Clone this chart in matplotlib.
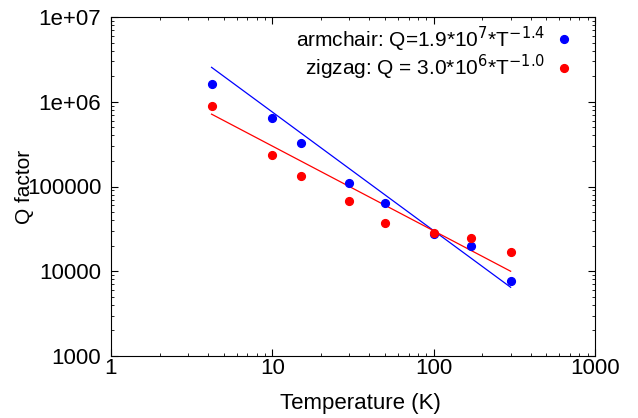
import matplotlib
matplotlib.use("Agg")
import matplotlib.pyplot as plt
import numpy as np

plt.rcParams['font.family'] = ['Liberation Sans', 'DejaVu Sans']

T = [4.2, 10, 15, 30, 50, 100, 170, 300]
armchair_Q = [1.62e6, 6.4e5, 3.26e5, 1.1e5, 6.4e4, 2.75e4, 1.99e4, 7.7e3]
zigzag_Q = [8.9e5, 2.35e5, 1.33e5, 6.7e4, 3.7e4, 2.83e4, 2.47e4, 1.69e4]
arm_fit = (1.9e7, -1.4)
zig_fit = (3.0e6, -1.0)
fit_range = [4.2, 300]

fig = plt.figure(figsize=(6.38, 4.18), dpi=100)
ax = fig.add_axes([111/638, 1-356/418, (595-111)/638, (356-17)/418])

tf = np.array(fit_range)
ax.plot(tf, arm_fit[0]*tf**arm_fit[1], color='#0000ff', lw=0.9)
ax.plot(tf, zig_fit[0]*tf**zig_fit[1], color='#ff0000', lw=0.9)
ax.plot(T, armchair_Q, 'o', color='#0000ff', ms=5.6, ls='none',
        label=r'armchair: Q=1.9*10$^{7}$*T$^{-1.4}$')
ax.plot(T, zigzag_Q, 'o', color='#ff0000', ms=5.6, ls='none',
        label=r'zigzag: Q = 3.0*10$^{6}$*T$^{-1.0}$')

ax.set_xscale('log')
ax.set_yscale('log')
ax.set_xlim(1, 1000)
ax.set_ylim(1000, 1e7)
ax.set_xticks([1, 10, 100, 1000])
ax.set_xticklabels(['1', '10', '100', '1000'])
ax.set_yticks([1e3, 1e4, 1e5, 1e6, 1e7])
ax.set_yticklabels(['1000', '10000', '100000', '1e+06', '1e+07'])
ax.tick_params(which='both', direction='in', top=True, right=True, labelsize=16)
ax.tick_params(which='major', length=5, width=0.8)
ax.tick_params(which='minor', length=2.5, width=0.6)
ax.tick_params(axis='x', pad=1.5)
ax.tick_params(axis='y', pad=7)

ax.set_xlabel('Temperature (K)', fontsize=16)
ax.set_ylabel('Q factor', fontsize=15)
ax.yaxis.set_label_coords(-(111-24)/484, 0.5)
ax.xaxis.set_label_coords((360-111)/484, -(403-356)/339)
ax.xaxis.label.set_va('center')
ax.yaxis.label.set_va('center')
ax.set_zorder(0)

leg = ax.legend(loc='upper right', frameon=False, markerfirst=False, fontsize=15,
                handletextpad=0.4, borderaxespad=0.0, labelspacing=-0.05,
                handlelength=1.0, bbox_to_anchor=((583-111)/484, 1.0 + 1/339))
for t in leg.get_texts():
    t.set_ha('right')

fig.savefig('out.png', dpi=100)
